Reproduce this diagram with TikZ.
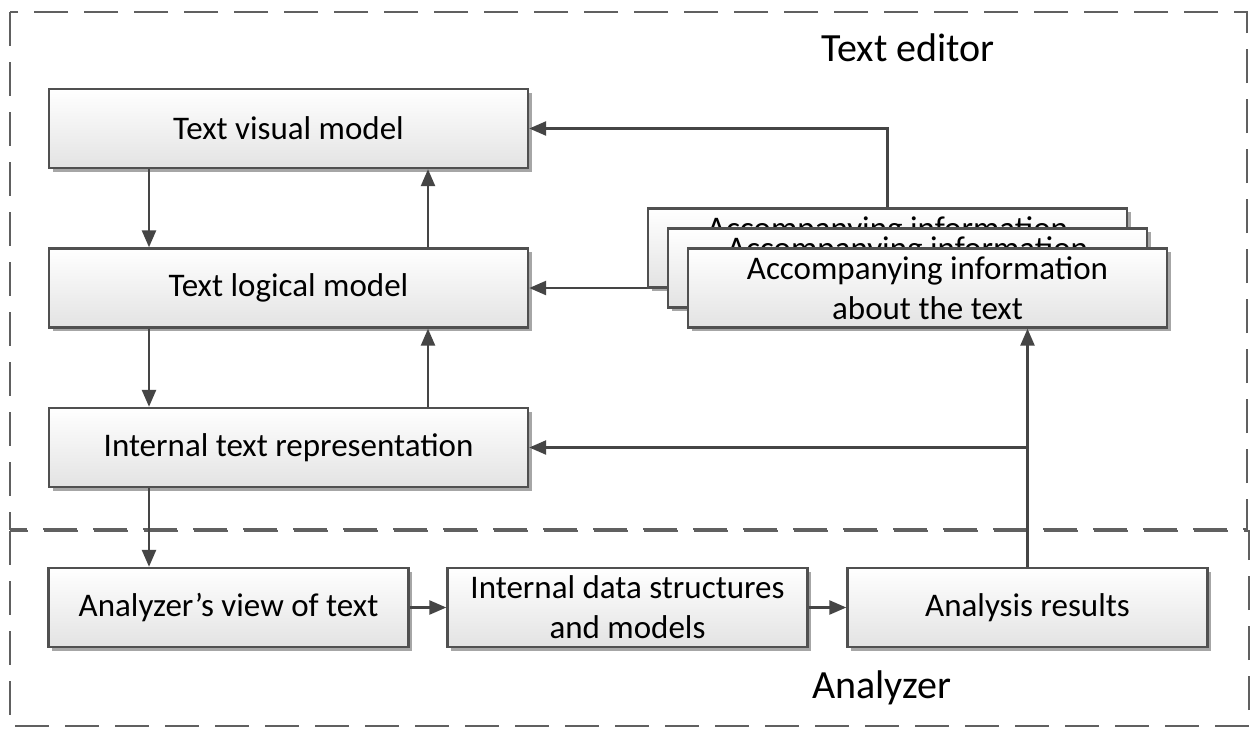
\documentclass[tikz,border=0pt]{standalone}
\usepackage{fontspec}
\setmainfont{Carlito}
\usetikzlibrary{arrows.meta,shadows}
\definecolor{boxline}{HTML}{505050}
\definecolor{arrline}{HTML}{454545}
\definecolor{frameline}{HTML}{606060}
\begin{document}
\begin{tikzpicture}[x=1pt,y=-1pt,
  box/.style={draw=boxline, line width=2.4pt, top color=white, bottom color=gray!22,
    minimum width=479pt, minimum height=79pt, inner sep=0pt, align=center,
    font=\fontsize{33}{40}\selectfont,
    drop shadow={shadow xshift=3.5pt, shadow yshift=-3.5pt, fill=black, opacity=0.35}},
  smallbox/.style={box, minimum width=360pt},
  arr/.style={draw=arrline, line width=2.5pt, -{Triangle[length=17pt,width=14pt]}},
  frame/.style={draw=frameline, line width=2.6pt, dash pattern=on 34pt off 16pt},
  lbl/.style={font=\fontsize{40}{48}\selectfont, inner sep=0pt}]
\useasboundingbox (0,0) rectangle (1257,728);
\fill[white] (0,0) rectangle (1257,728);
% frames
\draw[frame] (10,12) rectangle (1247,529);
\draw[frame] (10,531) rectangle (1249,726);
\node[lbl] (ted) at (908,48) {Text editor};
\node[lbl] (anl) at (882,688) {Analyzer};
% editor boxes
\node[box] (vis) at (288.5,128.5) {Text visual model};
\node[box] (log) at (288.5,288) {Text logical model};
\node[box] (int) at (288.5,447.5) {Internal text representation};
\node[box] (acc1) at (887.5,248) {Accompanying information\\about the text};
\node[box] (acc2) at (907.5,268) {Accompanying information\\about the text};
\node[box] (acc3) at (927.5,288) {Accompanying information\\about the text};
% analyzer boxes
\node[smallbox] (view) at (228.5,607.5) {Analyzer’s view of text};
\node[smallbox, font=\fontsize{33}{40}\selectfont] (ids) at (627.5,607.5) {Internal data structures\\and models};
\node[smallbox] (res) at (1027.5,607.5) {Analysis results};
% coordinates for offset connectors
\coordinate (visL) at ([xshift=-139.5pt]vis.south);
\coordinate (visR) at ([xshift=139.5pt]vis.south);
\coordinate (logTL) at ([xshift=-139.5pt]log.north);
\coordinate (logTR) at ([xshift=139.5pt]log.north);
\coordinate (logBL) at ([xshift=-139.5pt]log.south);
\coordinate (logBR) at ([xshift=139.5pt]log.south);
\coordinate (intTL) at ([xshift=-139.5pt]int.north);
\coordinate (intTR) at ([xshift=139.5pt]int.north);
\coordinate (intBL) at ([xshift=-139.5pt]int.south);
% connectors
\draw[arr] (visL) -- (logTL);
\draw[arr] (logTR) -- (visR);
\draw[arr] (logBL) -- (intTL);
\draw[arr] (intTR) -- (logBR);
\draw[arr] (intBL) -- (intBL |- view.north);
\draw[arr] (acc1.north) -- (acc1.north |- vis.east) -- (vis.east);
\draw[arr] (acc1.west |- log.east) -- (log.east);
\draw[arr] (res.north) -- (res.north |- acc3.south);
\draw[arr] (res.north |- int.east) -- (int.east);
\draw[arr] (view.east) -- (ids.west);
\draw[arr] (ids.east) -- (res.west);
\end{tikzpicture}
\end{document}
